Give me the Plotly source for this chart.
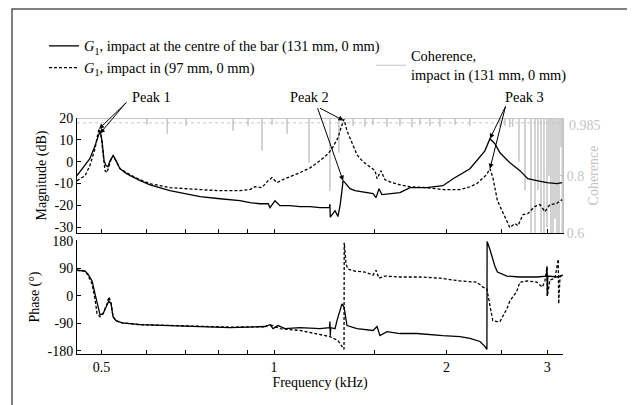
import math
import plotly.graph_objects as go

# ---------------- data (frequency in kHz) ----------------
mag_c_f = [0.453, 0.468, 0.477, 0.487, 0.493, 0.497, 0.501, 0.505, 0.509, 0.513, 0.5175, 0.524, 0.530,
           0.5385, 0.5495, 0.561, 0.584, 0.6075, 0.658, 0.743, 0.805, 0.872, 0.908, 0.945, 0.977, 0.984,
           1.004, 1.024, 1.066, 1.110, 1.156, 1.203, 1.250, 1.252, 1.254, 1.278, 1.293, 1.304, 1.314,
           1.320, 1.330, 1.341, 1.357, 1.385, 1.441, 1.489, 1.507, 1.525, 1.543, 1.594, 1.659, 1.727,
           1.847, 1.972, 2.054, 2.198, 2.259, 2.334, 2.382, 2.430, 2.480, 2.581, 2.687, 2.773, 2.876,
           2.996, 3.119, 3.183]
mag_c_db = [-6.4, -1.8, 1.4, 7.3, 12, 14.2, 9.6, 0.5, -1.8, -2.3, 0.5, 2.8, 0.5,
            -3.2, -5, -6.4, -8.7, -10.6, -13.3, -16, -17, -17.9, -18.8, -19.3, -19.3, -21.1,
            -17.9, -20.2, -20.2, -20.6, -20.6, -21.1, -21.1, -19.5, -25.5, -22.5, -25.2, -20.2, -13.3,
            -8.7, -9.6, -11, -12.4, -13.3, -14.2, -14.7, -16.5, -12.4, -15.1, -14.7, -14.2, -11.9,
            -11.9, -11, -7.8, -3.2, 0.5, 5, 10.6, 8.3, 4.1, -0.5, -4.1, -7.8, -8.7,
            -9.6, -10.1, -9.6]

mag_97_f = [0.453, 0.468, 0.477, 0.487, 0.493, 0.495, 0.499, 0.503, 0.507, 0.511, 0.515, 0.520, 0.524,
            0.530, 0.5385, 0.561, 0.584, 0.6075, 0.658, 0.743, 0.805, 0.872, 0.908, 0.926, 0.952, 0.977,
            0.992, 1.012, 1.045, 1.110, 1.156, 1.203, 1.243, 1.265, 1.293, 1.309, 1.325, 1.341, 1.369,
            1.396, 1.430, 1.471, 1.501, 1.513, 1.537, 1.562, 1.607, 1.659, 1.727, 1.847, 1.972, 2.112,
            2.198, 2.259, 2.349, 2.382, 2.410, 2.455, 2.530, 2.581, 2.634, 2.666, 2.720, 2.773, 2.850,
            2.912, 2.971, 3.031, 3.110, 3.183]
mag_97_db = [-8.7, -6.4, -1.8, 6, 13.3, 15.1, 12, 2.8, -4.1, -5, -1.8, 1.4, 2.8,
             0.5, -3.2, -6, -8.3, -10.1, -11.9, -12.8, -13.3, -13.3, -12.8, -11.5, -11.9, -8.7,
             -7.3, -9.6, -7.8, -5, -2.8, 0.5, 3.7, 6.4, 11, 15.6, 19.5, 14.2, 8.3,
             3.2, 0, -2.3, -4.1, -7.8, -4.1, -8.3, -9.6, -10.6, -11.5, -11.9, -12.8, -12.8,
             -11.5, -10.1, -6, -3.2, -7.3, -17.9, -25.7, -30.3, -28.4, -29.4, -24.3, -23.9, -20.6,
             -19.7, -22.9, -19.7, -19.3, -17.4]

ph_c_f = [0.453, 0.468, 0.4735, 0.4813, 0.487, 0.493, 0.497, 0.503, 0.509, 0.515, 0.5195, 0.5236, 0.530,
          0.543, 0.584, 0.658, 0.743, 0.838, 0.9645, 0.984, 0.996, 1.016, 1.045, 1.110, 1.203, 1.250,
          1.252, 1.254, 1.256, 1.278, 1.288, 1.314, 1.325, 1.341, 1.396, 1.489, 1.513, 1.531, 1.575,
          1.659, 1.776, 1.972, 2.112, 2.198, 2.288, 2.334, 2.353, 2.355, 2.382, 2.430, 2.455, 2.550,
          2.687, 2.876, 2.990, 2.996, 3.000, 3.006, 3.119, 3.195]
ph_c_deg = [84, 81, 71, 49, 6.5, -42, -62, -58, -36, -16, -26, -68, -81,
            -88, -94, -97, -100, -104, -100, -94, -107, -97, -107, -104, -107, -104,
            -84, -130, -104, -107, -81, -26, -36, -97, -107, -113, -100, -130, -117,
            -123, -123, -130, -133, -139, -149, -165, -175, 178, 152, 97, 78, 65,
            62, 62, 65, 97, 0, 65, 62, 68]

ph_97_f = [0.453, 0.468, 0.4735, 0.4813, 0.487, 0.491, 0.497, 0.503, 0.511, 0.515, 0.5195, 0.5236, 0.530,
           0.543, 0.584, 0.658, 0.743, 0.838, 0.9645, 0.984, 1.004, 1.024, 1.110, 1.203, 1.252, 1.293,
           1.314, 1.325, 1.326, 1.336, 1.346, 1.385, 1.441, 1.489, 1.507, 1.525, 1.562, 1.659, 1.798,
           1.949, 2.112, 2.259, 2.316, 2.353, 2.382, 2.410, 2.450, 2.480, 2.550, 2.581, 2.650, 2.687,
           2.764, 2.876, 2.940, 2.971, 2.996, 3.000, 3.031, 3.093, 3.135, 3.140, 3.157, 3.195]
ph_97_deg = [84, 81, 68, 39, -10, -58, -68, -58, -26, -3, -23, -68, -81,
             -88, -94, -97, -100, -102, -101, -94, -100, -107, -113, -126, -133, -146,
             -165, -175, 175, 104, 88, 81, 78, 68, 84, 58, 65, 62, 62,
             58, 49, 45, 29, 23, -32, -81, -84, -84, -42, -16, 13, 45,
             49, 45, 29, 49, 94, 0, 52, 58, 120, -26, 62, 71]

# coherence (impact at 131 mm): dips from 1 at these frequencies
coh_dip_f = [0.600, 0.651, 0.702, 0.848, 0.901, 0.953, 0.992, 1.054, 1.151, 1.252, 1.298, 1.374, 1.441,
             1.488, 1.575, 1.659, 1.741, 1.797, 1.871, 1.948, 2.070, 2.197, 2.480, 2.530, 2.580, 2.610,
             2.677, 2.742, 2.809, 2.855, 2.889, 2.925, 2.960, 2.996, 3.020, 3.044, 3.069, 3.094, 3.119,
             3.144, 3.170, 3.185]
coh_dip_v = [0.978, 0.947, 0.975, 0.958, 0.975, 0.888, 0.978, 0.947, 0.846, 0.747, 0.881, 0.975, 0.972,
             0.978, 0.972, 0.975, 0.970, 0.978, 0.975, 0.972, 0.978, 0.975, 0.972, 0.975, 0.970, 0.972,
             0.850, 0.750, 0.600, 0.600, 0.750, 0.600, 0.600, 0.620, 0.800, 0.600, 0.600, 0.650, 0.600,
             0.600, 0.900, 0.600]

f_min, f_max = 0.453, 3.195
x_major_vals = [0.5, 1, 2, 3]
x_major_text = ["0.5", "1", "2", "3"]
x_minor_vals = [0.6, 0.7, 0.8, 0.9, 1.5, 2.5]
mag_ticks = [20, 10, 0, -10, -20, -30]
ph_ticks = [180, 90, 0, -90, -180]
coh_major = [0.6, 0.8]
coh_minor = [0.985, 1.0]

# ---------------- build coherence line ----------------
coh_x, coh_y = [f_min], [1.0]
for f, v in zip(coh_dip_f, coh_dip_v):
    coh_x += [f, f, f]
    coh_y += [1.0, v, 1.0]
coh_x.append(f_max)
coh_y.append(1.0)

FONT = "Liberation Serif"
GREY = "#c4c4c4"
G1 = "<i>G</i><sub>1</sub>"

fig = go.Figure()
fig.add_trace(go.Scatter(x=coh_x, y=coh_y, mode="lines", xaxis="x", yaxis="y",
                         line=dict(color=GREY, width=1),
                         name="Coherence,<br>impact in (131 mm, 0 mm)", legend="legend2"))
fig.add_trace(go.Scatter(x=mag_c_f, y=mag_c_db, mode="lines", xaxis="x", yaxis="y3",
                         line=dict(color="black", width=1.3),
                         name=G1 + ", impact at the centre of the bar (131 mm, 0 mm)",
                         legendgroup="c"))
fig.add_trace(go.Scatter(x=mag_97_f, y=mag_97_db, mode="lines", xaxis="x", yaxis="y3",
                         line=dict(color="black", width=1.3, dash="3px,2px"),
                         name=G1 + ", impact in (97 mm, 0 mm)", legendgroup="d"))
fig.add_trace(go.Scatter(x=ph_c_f, y=ph_c_deg, mode="lines", xaxis="x2", yaxis="y2",
                         line=dict(color="black", width=1.3), showlegend=False, legendgroup="c"))
fig.add_trace(go.Scatter(x=ph_97_f, y=ph_97_deg, mode="lines", xaxis="x2", yaxis="y2",
                         line=dict(color="black", width=1.3, dash="3px,2px"), showlegend=False,
                         legendgroup="d"))

xr = [math.log10(f_min), math.log10(f_max)]
common_x = dict(type="log", range=xr, showline=True, linecolor="black", linewidth=1,
                ticks="inside", ticklen=4, tickcolor="black", tickmode="array",
                tickvals=x_major_vals, ticktext=x_major_text,
                minor=dict(tickmode="array", tickvals=x_minor_vals, ticks="inside", ticklen=4,
                           tickcolor="black", showgrid=False),
                showgrid=False, zeroline=False)

mag_dom = [121 / 236, 1.0]
ph_dom = [0.0, 114 / 236]

# the page body adds an 8 px offset; the figure is sized to fill the rest of the window
fig.update_layout(
    width=627, height=397,
    margin=dict(l=69, r=72, t=110, b=51, autoexpand=False),
    paper_bgcolor="white", plot_bgcolor="white",
    font=dict(family=FONT, size=14, color="black"),
    xaxis=dict(**common_x, anchor="y", domain=[0, 1], showticklabels=False),
    xaxis2=dict(**common_x, anchor="y2", domain=[0, 1], matches="x",
                title=dict(text="Frequency (kHz)", standoff=2, font=dict(size=14))),
    yaxis=dict(domain=mag_dom, side="right", range=[0.6, 1.002], anchor="x",
               showline=True, linecolor=GREY, ticks="inside", ticklen=4, tickcolor=GREY,
               tickmode="array", tickvals=coh_major, ticktext=["0.6", "0.8"],
               minor=dict(tickmode="array", tickvals=coh_minor, ticks="inside", ticklen=4,
                          tickcolor=GREY, showgrid=False),
               tickfont=dict(color=GREY, size=14), showgrid=False, zeroline=False,
               title=dict(text="Coherence", font=dict(color=GREY, size=14), standoff=4)),
    yaxis3=dict(overlaying="y", side="left", range=[-32.75, 20.1], anchor="x",
                showline=True, linecolor="black", ticks="inside", ticklen=4, tickcolor="black",
                tickmode="array", tickvals=mag_ticks, ticktext=[str(v) for v in mag_ticks],
                showgrid=False, zeroline=False,
                title=dict(text="Magnitude (dB)", font=dict(size=14), standoff=4)),
    yaxis2=dict(domain=ph_dom, range=[-190, 183], anchor="x2",
                showline=True, linecolor="black", ticks="inside", ticklen=4, tickcolor="black",
                tickmode="array", tickvals=ph_ticks, ticktext=[str(v) for v in ph_ticks],
                showgrid=False, zeroline=False,
                title=dict(text="Phase (°)", font=dict(size=14), standoff=4)),
    showlegend=True,
    legend=dict(x=(44 - 77) / 486, y=(354 - 30) / 236, xanchor="left", yanchor="top",
                bgcolor="rgba(0,0,0,0)", font=dict(size=14.4), tracegroupgap=0,
                traceorder="normal"),
    legend2=dict(x=(371 - 77) / 486, y=(354 - 40) / 236, xanchor="left", yanchor="top",
                 bgcolor="rgba(0,0,0,0)", font=dict(size=14.4)),
)

# dotted coherence threshold line
fig.add_shape(type="line", xref="paper", yref="y", x0=0, x1=1, y0=0.985, y1=0.985,
              line=dict(color=GREY, width=1, dash="dot"))
# outer frame
fig.add_shape(type="rect", xref="paper", yref="paper",
              x0=(12 - 77) / 486, x1=(628 - 77) / 486, y0=-0.3, y1=(354 - 9) / 236,
              line=dict(color="#555555", width=1.5))

ann = []
# coherence tick labels near top
ann.append(dict(xref="paper", yref="y", x=1 + 4 / 486, y=1.012, text="1", showarrow=False,
                xanchor="left", yanchor="middle", font=dict(color=GREY, size=13)))
ann.append(dict(xref="paper", yref="y", x=1 + 4 / 486, y=0.977, text="0.985", showarrow=False,
                xanchor="left", yanchor="middle", font=dict(color=GREY, size=14)))

# peak labels
for txt, px in [("Peak 1", 130), ("Peak 2", 288), ("Peak 3", 503)]:
    ann.append(dict(xref="paper", yref="paper", x=(px - 77) / 486, y=(354 - 97) / 236, text=txt,
                    showarrow=False, xanchor="left", yanchor="middle", font=dict(size=14.4)))

# arrows: (freq, dB, ax, ay)
arrows = [(0.495, 15.1, 29, -28), (0.497, 13.0, 27, -32),
          (1.322, 19.0, -25, -13), (1.320, -8.7, -26, -74),
          (2.382, 10.6, 16, -33), (2.382, -3.2, 16, -64)]
for f, v, ax, ay in arrows:
    ann.append(dict(xref="x", yref="y3", x=math.log10(f), y=v, ax=ax, ay=ay, text="",
                    showarrow=True, arrowhead=2, arrowsize=1, arrowwidth=1, arrowcolor="black",
                    standoff=0))
fig.update_layout(annotations=ann)

fig.write_html("out.html")
